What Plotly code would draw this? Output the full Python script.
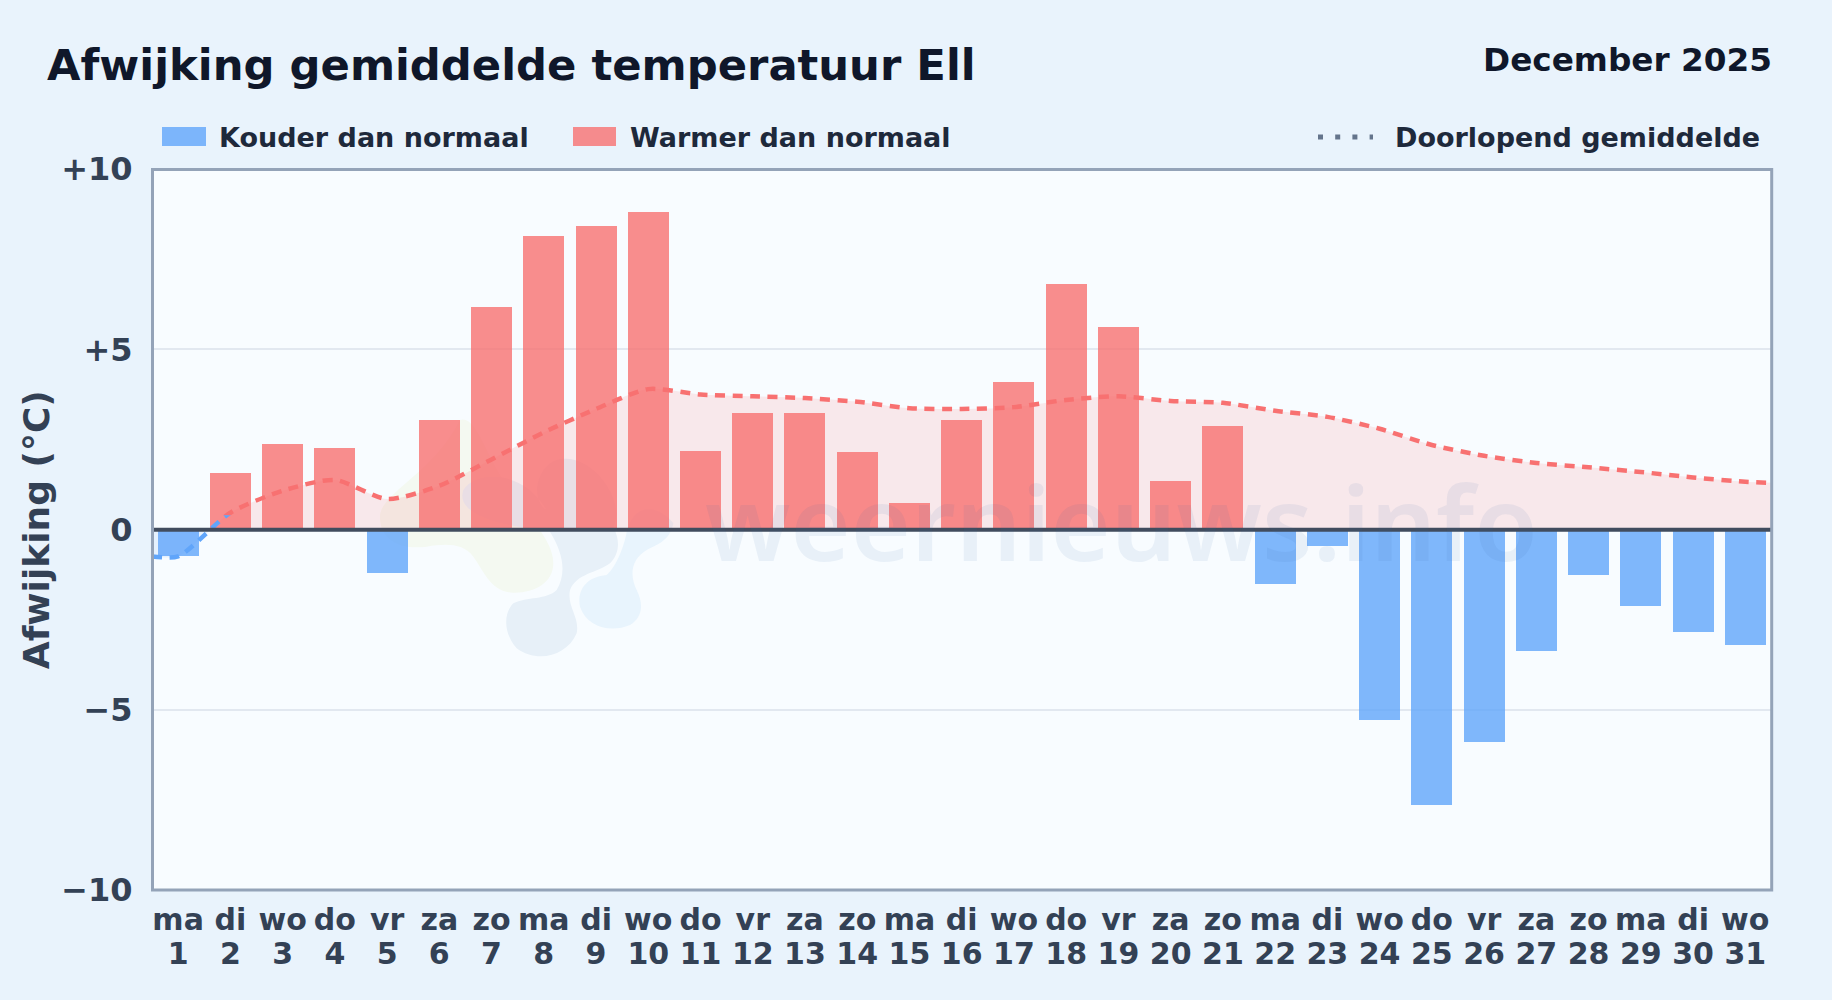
import plotly.graph_objects as go

day_names = ["ma","di","wo","do","vr","za","zo","ma","di","wo","do","vr","za","zo","ma","di","wo","do","vr","za","zo","ma","di","wo","do","vr","za","zo","ma","di","wo"]
days = list(range(1, 32))
deviation = [-0.73,1.57,2.38,2.25,-1.22,3.05,6.17,8.15,8.41,8.82,2.19,3.23,3.23,2.15,0.73,3.05,4.1,6.8,5.62,1.35,2.86,-1.5,-0.47,-5.28,-7.63,-5.9,-3.38,-1.25,-2.13,-2.83,-3.2]
running_days = [0.5] + days + [31.5]
running_mean = [-0.74,-0.74,0.47,1.08,1.38,0.85,1.22,1.95,2.7,3.35,3.9,3.75,3.7,3.65,3.55,3.37,3.35,3.4,3.6,3.7,3.57,3.52,3.3,3.13,2.8,2.35,2.05,1.85,1.73,1.6,1.45,1.33,1.3]
y_tick_vals = [10,5,0,-5,-10]
y_tick_text = ["+10","+5","0","−5","−10"]

W, H = 1832, 1000
FONT = "DejaVu Sans"
RED = "rgba(248,113,113,0.8)"
BLUE = "rgba(96,165,250,0.8)"
L, R, T, B = 152.0, 1771.4, 169.2, 890.2
XDOM = [L/W, R/W]
YDOM = [1-B/H, 1-T/H]
YMID = (YDOM[0]+YDOM[1])/2
UNIT = (YDOM[1]-YDOM[0])/20
SWITCH = 0.4            # where the running line turns from blue to red
YSW = YMID + SWITCH*UNIT

def bold(size, color):
    return dict(family=FONT, size=size, color=color, weight=700)

fig = go.Figure()

# fills (below the bars)
fig.add_trace(go.Scatter(x=running_days, y=running_mean, xaxis="x2", yaxis="y2", mode="lines",
    line=dict(shape="spline", smoothing=0.7, width=0), fill="tozeroy", fillcolor="rgba(248,113,113,0.14)", showlegend=False))
fig.add_trace(go.Scatter(x=running_days, y=running_mean, xaxis="x2", yaxis="y3", mode="lines",
    line=dict(shape="spline", smoothing=0.7, width=0), fill="tozeroy", fillcolor="rgba(96,165,250,0.12)", showlegend=False))
# bars
fig.add_trace(go.Bar(x=days, y=deviation, xaxis="x2", yaxis="y4", width=0.785, showlegend=False,
    marker=dict(color=[RED if v >= 0 else BLUE for v in deviation], line=dict(width=0))))
# running mean line
dash = "10px,7.5px"
fig.add_trace(go.Scatter(x=running_days, y=running_mean, xaxis="x2", yaxis="y5", mode="lines",
    line=dict(shape="spline", smoothing=0.7, width=4.5, color="#f87171", dash=dash), showlegend=False))
fig.add_trace(go.Scatter(x=running_days, y=running_mean, xaxis="x2", yaxis="y6", mode="lines",
    line=dict(shape="spline", smoothing=0.7, width=4.5, color="#60a5fa", dash=dash), showlegend=False))
# main frame needs a trace
fig.add_trace(go.Scatter(x=[days[0]], y=[0], mode="lines", showlegend=False, hoverinfo="skip"))

hidden = dict(visible=False, anchor="x2")

def crop_path(cmds):
    # watermark logo outline, given in pixels of a 3x crop at (350,400)
    out = []
    for c in cmds:
        if isinstance(c, str):
            out.append(c)
        else:
            out.append(f"{(350+c[0]/3)/W:.5f},{1-(400+c[1]/3)/H:.5f}")
    return " ".join(out)

yellow = crop_path(["M",(90,350),"C",(90,280),(250,220),(330,60),"C",(380,40),(420,200),(470,250),"C",(560,380),(610,430),(610,490),
    "C",(610,550),(550,580),(490,578),"C",(420,575),(400,510),(370,470),"C",(340,430),(290,430),(230,440),"C",(150,450),(90,420),(90,350),"Z"])
central = crop_path(["M",(600,395),"C",(640,460),(650,520),(620,570),"C",(590,600),(530,590),(490,610),"C",(460,640),(460,700),(500,745),
    "C",(560,790),(650,770),(680,700),"C",(690,650),(650,620),(660,570),"C",(680,520),(740,520),(780,490),"C",(810,460),(810,420),(790,380),
    "C",(830,300),(720,150),(620,180),"C",(560,200),(540,300),(590,330),"C",(520,210),(380,210),(340,270),"C",(320,330),(400,370),(600,395),"Z"])
light = crop_path(["M",(830,395),"C",(825,430),(800,500),(770,525),"C",(710,530),(680,570),(690,620),"C",(710,680),(780,700),(840,675),
    "C",(880,650),(880,610),(860,570),"C",(840,530),(840,480),(890,450),"C",(930,430),(960,420),(970,370),"C",(940,330),(860,290),(830,395),"Z"])

shapes = [
    dict(type="rect", xref="paper", yref="paper", x0=152.5/W, x1=1771.7/W, y0=1-890/H, y1=1-169.5/H, layer="below", fillcolor="#f8fcff", line_width=0),
    dict(type="path", path=yellow, xref="paper", yref="paper", layer="below", fillcolor="#f4f9f1", line_width=0),
    dict(type="path", path=central, xref="paper", yref="paper", layer="below", fillcolor="#e7f0f8", line_width=0),
    dict(type="path", path=light, xref="paper", yref="paper", layer="below", fillcolor="#e8f4fd", line_width=0),
    # zero line above everything
    dict(type="line", xref="paper", yref="y", x0=L/W, x1=R/W, y0=0, y1=0, line=dict(color="#414c5e", width=4)),
    # plot frame
    dict(type="rect", xref="paper", yref="paper", x0=152.5/W, x1=1771.7/W, y0=1-890/H, y1=1-169.5/H,
         fillcolor="rgba(0,0,0,0)", line=dict(color="#94a3b8", width=3)),
    # legend swatches
    dict(type="rect", xref="paper", yref="paper", x0=162/W, x1=206/W, y0=1-146/H, y1=1-127/H, fillcolor=BLUE, line_width=0),
    dict(type="rect", xref="paper", yref="paper", x0=573/W, x1=616/W, y0=1-146/H, y1=1-127/H, fillcolor=RED, line_width=0),
    dict(type="line", xref="paper", yref="paper", x0=1318/W, x1=1373/W, y0=1-137/H, y1=1-137/H,
         line=dict(color="#64748b", width=5, dash="5px,12.2px")),
]

def ann(text, x, y, size, color, xanchor="left", yanchor="middle", **kw):
    return dict(text=text, x=x/W, y=1-y/H, xref="paper", yref="paper", showarrow=False, xanchor=xanchor, yanchor=yanchor,
                font=bold(size, color), **kw)

annotations = [
    ann("Afwijking gemiddelde temperatuur Ell", 44.5, 65, 43.3, "#0f172a"),
    ann("December 2025", 1773.5, 60, 32.7, "#0f172a", xanchor="right"),
    ann("Kouder dan normaal", 216.7, 137, 27, "#1e293b"),
    ann("Warmer dan normaal", 627.7, 137, 27, "#1e293b"),
    ann("Doorlopend gemiddelde", 1392.7, 137, 27, "#1e293b"),
    dict(text="weernieuws.info", x=703/W, y=1-565/H, xref="paper", yref="paper", showarrow=False, xanchor="left", yanchor="bottom",
         yshift=-28, font=dict(family="Noto Sans", size=103, color="rgba(50,100,165,0.08)", weight=600)),
]

fig.update_layout(
    width=W, height=H, margin=dict(l=0, r=0, t=0, b=0, autoexpand=False),
    paper_bgcolor="#e9f3fc", plot_bgcolor="rgba(0,0,0,0)", bargap=0, showlegend=False,
    xaxis=dict(domain=XDOM, range=[0.5,31.5], tickmode="array", tickvals=days, ticktext=day_names,
               tickfont=bold(30, "#334155"), ticks="outside", ticklen=3, tickcolor="rgba(0,0,0,0)", tickangle=0,
               showgrid=False, zeroline=False, showline=False, anchor="y"),
    xaxis2=dict(domain=XDOM, range=[0.5,31.5], tickmode="array", tickvals=days, ticktext=[str(d) for d in days],
                tickfont=bold(30, "#334155"), ticks="outside", ticklen=37, tickcolor="rgba(0,0,0,0)", tickangle=0,
                showgrid=False, zeroline=False, showline=False, anchor="y", side="bottom"),
    yaxis=dict(domain=YDOM, range=[-10,10], tickmode="array", tickvals=y_tick_vals, ticktext=y_tick_text,
               tickfont=bold(32, "#334155"), ticks="outside", ticklen=12, tickcolor="rgba(0,0,0,0)",
               showgrid=True, gridcolor="#e2e8f0", gridwidth=2, zeroline=False,
               showline=False, anchor="x",
               title=dict(text="Afwijking (°C)", font=bold(36, "#334155"), standoff=0)),
    yaxis2=dict(hidden, domain=[YMID,YDOM[1]], range=[0,10]),
    yaxis3=dict(hidden, domain=[YDOM[0],YMID], range=[-10,0]),
    yaxis4=dict(hidden, domain=YDOM, range=[-10,10]),
    yaxis5=dict(hidden, domain=[YSW,YDOM[1]], range=[SWITCH,10]),
    yaxis6=dict(hidden, domain=[YDOM[0],YSW], range=[-10,SWITCH]),
    shapes=shapes, annotations=annotations,
)

fig.write_html("out.html", config=dict(displayModeBar=False),
               post_script="document.body.style.margin='0';document.body.style.overflow='hidden';")
